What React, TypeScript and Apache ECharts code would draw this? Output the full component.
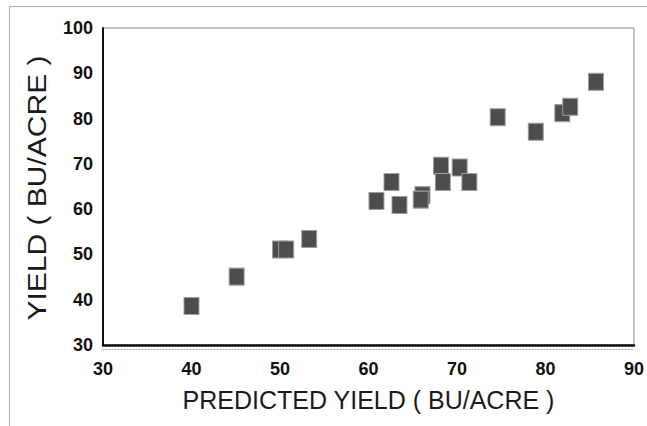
import React, { useEffect, useRef } from "react";
import * as echarts from "echarts";

const predicted = [40.0, 45.1, 50.0, 50.7, 53.3, 60.9, 62.6, 63.5, 66.1, 65.9, 68.2, 68.4, 70.3, 71.4, 74.6, 78.9, 81.9, 82.8, 85.7];
const actual = [38.6, 45.1, 51.1, 51.1, 53.4, 61.8, 66.0, 60.9, 63.1, 62.1, 69.6, 66.0, 69.2, 66.0, 80.3, 77.1, 81.2, 82.6, 88.1];
const xTicks = { min: 30, max: 90, interval: 10 };
const yTicks = { min: 30, max: 100, interval: 10 };
const xTitle = "PREDICTED YIELD ( BU/ACRE )";
const yTitle = "YIELD ( BU/ACRE )";

export default function App() {
  const ref = useRef<HTMLDivElement>(null);
  useEffect(() => {
    document.body.style.margin = "0";
    const chart = echarts.init(ref.current!, null, { renderer: "svg" });
    const points = predicted.map((x, i) => [x, actual[i]]);
    const font = "'Liberation Sans', Arial, sans-serif";
    chart.setOption({
      animation: false,
      backgroundColor: "#fff",
      grid: {
        left: 103,
        right: 10,
        top: 28,
        bottom: 81,
        show: true,
        borderColor: "#8a8a8a",
        borderWidth: 1,
      },
      graphic: [
        {
          type: "rect",
          shape: { x: 9.5, y: 6.5, width: 700, height: 500 },
          style: { fill: "none", stroke: "#b0b0b0", lineWidth: 1 },
          silent: true,
        },
        {
          type: "text",
          x: 37,
          y: 188,
          rotation: Math.PI / 2,
          scaleX: 1.2,
          style: {
            text: yTitle,
            fontFamily: font,
            fontSize: 25,
            fill: "#1a1a1a",
            align: "center",
            verticalAlign: "middle",
          },
          silent: true,
        },
      ],
      xAxis: [
        {
          type: "value",
          min: xTicks.min,
          max: xTicks.max,
          interval: xTicks.interval,
          name: xTitle,
          nameLocation: "middle",
          nameGap: 42,
          nameTextStyle: { fontFamily: font, fontSize: 25, color: "#1a1a1a" },
          axisLine: { show: true, lineStyle: { color: "#111", width: 2.5 } },
          axisTick: { show: false },
          splitLine: { show: false },
          axisLabel: {
            fontFamily: font,
            fontSize: 18,
            fontWeight: "bold",
            color: "#111",
            margin: 15,
          },
        },
        {
          type: "value",
          position: "bottom",
          offset: 4,
          min: xTicks.min,
          max: xTicks.max,
          axisLine: { show: true, lineStyle: { color: "#999", width: 1, type: [1, 2] } },
          axisTick: { show: false },
          axisLabel: { show: false },
          splitLine: { show: false },
        },
      ],
      yAxis: {
        type: "value",
        min: yTicks.min,
        max: yTicks.max,
        interval: yTicks.interval,
        axisLine: { show: true, lineStyle: { color: "#111", width: 2 } },
        axisTick: { show: false },
        splitLine: { show: false },
        axisLabel: {
          fontFamily: font,
          fontSize: 18,
          fontWeight: "bold",
          color: "#111",
          margin: 10,
        },
      },
      series: [
        {
          type: "scatter",
          data: points,
          symbol: "rect",
          symbolSize: [15, 17],
          itemStyle: {
            color: "#4d4d4d",
            borderColor: "#a0a0a0",
            borderWidth: 1,
            opacity: 1,
          },
        },
      ],
    });
    return () => chart.dispose();
  }, []);
  return <div ref={ref} style={{ width: 647, height: 426 }} />;
}
